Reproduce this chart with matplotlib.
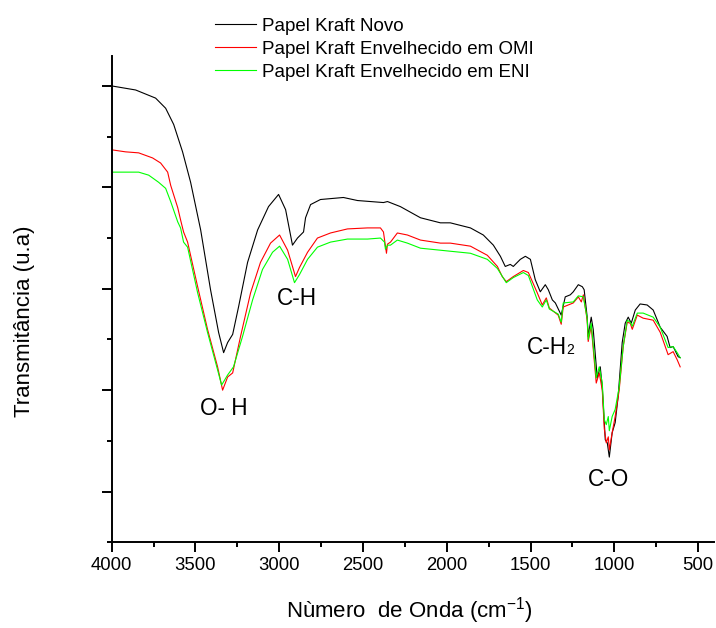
import matplotlib
matplotlib.use("Agg")
import matplotlib.pyplot as plt
from matplotlib.ticker import MultipleLocator, NullFormatter

plt.rcParams['font.family'] = ['Liberation Sans', 'DejaVu Sans']
plt.rcParams['mathtext.fontset'] = 'custom'
plt.rcParams['mathtext.rm'] = 'Liberation Sans'
plt.rcParams['mathtext.it'] = 'Liberation Sans:italic'

# FTIR spectra, values
novo_w = [4000, 3857, 3738, 3678, 3630, 3577, 3529, 3469, 3410, 3362, 3332, 3308, 3278, 3243,
          3189, 3129, 3064, 3004, 2962, 2921, 2891, 2855, 2843, 2813, 2754, 2617, 2533, 2378,
          2354, 2277, 2157, 2038, 1979, 1859, 1782, 1722, 1680, 1651, 1621, 1603, 1561, 1531,
          1501, 1472, 1442, 1412, 1394, 1370, 1352, 1317, 1293, 1263, 1245, 1215, 1191, 1180,
          1162, 1156, 1138, 1126, 1102, 1084, 1072, 1054, 1042, 1030, 1013, 995, 977, 953,
          935, 917, 899, 875, 846, 804, 768, 726, 685, 667, 649, 619, 607]
novo_t = [50.0, 49.6, 48.8, 47.8, 46.2, 43.5, 40.5, 35.8, 29.9, 25.7, 23.7, 24.7, 25.5, 28.2,
          32.6, 35.8, 38.1, 39.3, 37.8, 34.3, 35.0, 35.6, 37.0, 38.3, 38.8, 39.0, 38.7, 38.5,
          38.6, 38.1, 37.0, 36.5, 36.5, 36.0, 35.3, 34.3, 33.2, 32.2, 32.4, 32.2, 32.9, 33.2,
          32.9, 30.9, 29.7, 30.4, 29.9, 28.9, 28.6, 27.4, 29.2, 29.4, 29.7, 30.4, 30.2, 29.9,
          27.2, 25.3, 27.2, 26.0, 21.2, 22.3, 20.3, 15.1, 14.8, 13.4, 15.8, 16.8, 19.4, 24.7,
          26.6, 27.2, 26.6, 27.9, 28.5, 28.4, 27.9, 26.2, 25.3, 24.2, 24.3, 23.3, 23.2]

omi_w = [4000, 3917, 3839, 3756, 3708, 3666, 3648, 3606, 3589, 3571, 3547, 3487, 3428, 3368,
         3338, 3308, 3278, 3231, 3171, 3112, 3052, 2998, 2950, 2903, 2879, 2831, 2772, 2694,
         2593, 2473, 2396, 2378, 2360, 2354, 2336, 2295, 2235, 2157, 2038, 1979, 1859, 1758,
         1698, 1669, 1645, 1603, 1543, 1513, 1460, 1430, 1406, 1388, 1335, 1317, 1305, 1245,
         1215, 1197, 1185, 1162, 1156, 1138, 1108, 1090, 1072, 1060, 1048, 1036, 1030, 1013,
         995, 971, 947, 923, 905, 893, 863, 828, 768, 726, 679, 649, 625, 607]
omi_t = [43.7, 43.5, 43.4, 42.9, 42.4, 41.5, 40.2, 38.0, 36.8, 35.6, 34.6, 30.2, 26.0, 22.3,
         20.0, 21.3, 21.7, 25.3, 29.6, 32.6, 34.5, 35.3, 33.8, 31.2, 32.1, 33.6, 35.0, 35.5,
         35.9, 36.0, 36.0, 35.6, 33.5, 34.4, 34.6, 35.5, 35.3, 34.8, 34.5, 34.5, 34.2, 33.3,
         32.2, 31.2, 30.7, 31.2, 31.8, 31.6, 29.6, 28.4, 29.1, 28.1, 27.4, 26.5, 28.2, 28.6,
         29.2, 28.7, 29.4, 26.9, 24.8, 26.3, 20.7, 21.7, 20.0, 16.2, 14.8, 15.4, 14.1, 15.8,
         17.4, 20.0, 24.3, 26.7, 26.6, 26.0, 27.4, 27.1, 26.9, 25.7, 23.5, 23.8, 23.0, 22.3]

eni_w = [4000, 3917, 3839, 3779, 3720, 3678, 3648, 3606, 3589, 3571, 3547, 3487, 3428, 3368,
         3344, 3308, 3273, 3219, 3159, 3100, 3040, 2998, 2950, 2909, 2879, 2831, 2772, 2694,
         2593, 2473, 2396, 2372, 2366, 2354, 2336, 2295, 2235, 2157, 2038, 1979, 1859, 1758,
         1698, 1645, 1603, 1543, 1513, 1460, 1430, 1406, 1388, 1335, 1317, 1305, 1245, 1215,
         1185, 1162, 1156, 1138, 1108, 1090, 1072, 1060, 1048, 1036, 1030, 1013, 995, 971,
         947, 923, 905, 893, 863, 828, 768, 726, 679, 649, 625, 607]
eni_t = [41.5, 41.5, 41.5, 41.2, 40.5, 39.9, 38.6, 36.6, 36.0, 34.6, 34.1, 29.6, 25.7, 22.0,
         20.5, 21.5, 22.3, 25.3, 28.9, 31.9, 33.6, 34.2, 32.9, 30.6, 31.4, 32.9, 34.1, 34.6,
         34.9, 34.9, 35.0, 34.6, 33.9, 34.3, 34.3, 34.8, 34.5, 34.0, 33.8, 33.7, 33.5, 32.9,
         32.0, 30.6, 31.1, 31.6, 31.3, 28.9, 28.2, 28.9, 28.0, 27.5, 26.7, 28.6, 28.7, 29.3,
         29.2, 27.1, 25.0, 26.6, 21.2, 22.3, 20.7, 17.1, 16.6, 17.4, 16.0, 17.4, 18.1, 20.3,
         24.3, 26.9, 26.7, 26.3, 27.6, 27.6, 27.2, 26.2, 24.2, 24.3, 23.7, 23.2]

labels = ["Papel Kraft Novo", "Papel Kraft Envelhecido em OMI", "Papel Kraft Envelhecido em ENI"]
colors = ["black", "red", "#00ff00"]

# band labels (centre positions in data units)
bands = ["O- H", "C-H", "C-O"]
band_w = [3330, 2896, 1036]
band_t = [18.2, 29.0, 11.2]

fig = plt.figure(figsize=(7.16, 6.28), dpi=100)
ax = fig.add_axes([0.156, 0.1365, 0.841, 0.7743])

lines = []
for w, t, lab, c in zip([novo_w, omi_w, eni_w], [novo_t, omi_t, eni_t], labels, colors):
    ln, = ax.plot(w, t, color=c, lw=0.8, label=lab)
    lines.append(ln)

for txt, w, t in zip(bands, band_w, band_t):
    ax.text(w, t, txt, fontsize=16.3, ha='center', va='center')
# C-H2 with a small baseline "2", as in the original
ax.text(1285, 23.6, "C-H", fontsize=16.3, ha='right', va='baseline')
ax.text(1285, 23.6, "2", fontsize=10, ha='left', va='baseline')

ax.set_xlim(4000, 406)
ax.set_ylim(5.0, 52.95)
ax.xaxis.set_major_locator(MultipleLocator(500))
ax.xaxis.set_minor_locator(MultipleLocator(250))
ax.yaxis.set_major_locator(MultipleLocator(10))
ax.yaxis.set_minor_locator(MultipleLocator(5))
ax.yaxis.set_major_formatter(NullFormatter())

for s in ['top', 'right']:
    ax.spines[s].set_visible(False)
for s in ['left', 'bottom']:
    ax.spines[s].set_linewidth(1.4)

ax.tick_params(which='major', direction='out', length=7, width=1.4, labelsize=13.3, pad=3.5)
ax.tick_params(which='minor', direction='out', length=3.5, width=1.4)

ax.set_xlabel("Nùmero  de Onda (cm$^{-1}$)", fontsize=16, va='baseline')
ax.xaxis.set_label_coords(0.495, -0.155)
ax.set_ylabel("Transmitância (u.a)", fontsize=16, va='center')
ax.yaxis.set_label_coords(-0.144, 0.455)

fig.legend(lines, labels, loc='upper left', bbox_to_anchor=(0.29, 0.984), frameon=False,
           fontsize=13.5, handlelength=2.2, handletextpad=0.32, labelspacing=0.32,
           borderaxespad=0)

fig.savefig("out.png", dpi=100)
plt.close()
